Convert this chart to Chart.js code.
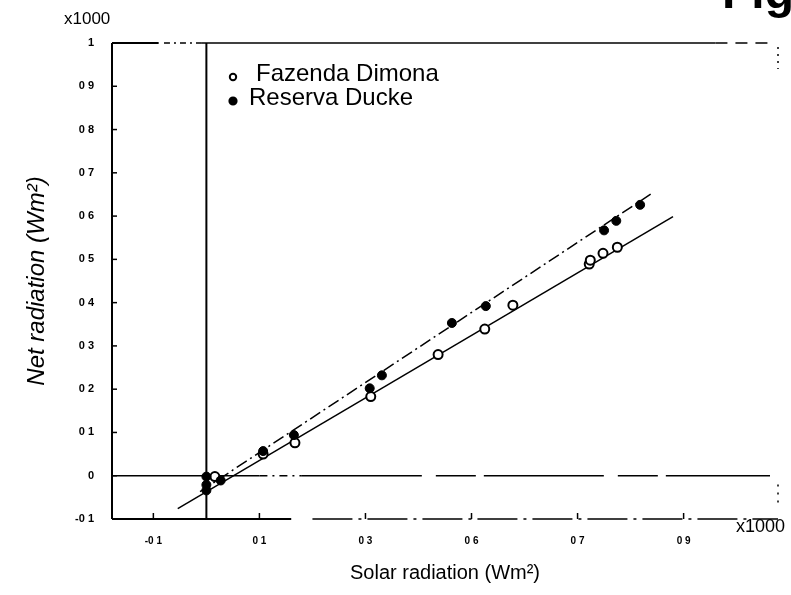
<!DOCTYPE html>
<html>
<head>
<meta charset="utf-8">
<script src="https://cdn.jsdelivr.net/npm/chart.js@4.4.1/dist/chart.umd.min.js"></script>
<style>
  html, body { margin: 0; padding: 0; background: #fff; }
</style>
</head>
<body>
<canvas id="radChart" width="791" height="595"></canvas>
<script>
// series (x1000 Wm-2)
const seriesNames = ['Fazenda Dimona', 'Reserva Ducke'];

const dimonaSolar = [0.016, 0.107, 0.167, 0.310, 0.437, 0.525, 0.578, 0.722, 0.724, 0.748, 0.775];
const dimonaNet   = [-0.002, 0.050, 0.076, 0.183, 0.280, 0.339, 0.394, 0.489, 0.498, 0.514, 0.528];

const duckeSolar = [0.0, 0.0, 0.0, 0.027, 0.107, 0.165, 0.308, 0.331, 0.463, 0.527, 0.750, 0.773, 0.818];
const duckeNet   = [-0.002, -0.021, -0.034, -0.011, 0.057, 0.094, 0.202, 0.232, 0.353, 0.392, 0.567, 0.589, 0.626];

// fitted lines, end points
const dimonaFitX = [-0.054, 0.880];
const dimonaFitY = [-0.076, 0.599];
const duckeFitX  = [-0.012, 0.842];
const duckeFitY  = [-0.037, 0.654];

// axes
const xTickValues = [-0.1, 0.1, 0.3, 0.5, 0.7, 0.9];
const xTickLabels = ['-0 1', '0 1', '0 3', '0 6', '0 7', '0 9'];
const yTickValues = [-0.1, 0, 0.1, 0.2, 0.3, 0.4, 0.5, 0.6, 0.7, 0.8, 0.9, 1];
const yTickLabels = ['-0 1', '0', '0 1', '0 2', '0 3', '0 4', '0 5', '0 6', '0 7', '0 8', '0 9', '1'];

const toPoints = (xs, ys) => xs.map((v, i) => ({x: v, y: ys[i]}));

function seg(ctx, x1, y1, x2, y2, w, dash) {
    ctx.beginPath();
    ctx.lineWidth = w;
    ctx.setLineDash(dash || []);
    ctx.moveTo(x1, y1);
    ctx.lineTo(x2, y2);
    ctx.stroke();
}

// scanned-style frame, zero lines and inward ticks
const framePlugin = {
    id: 'frame',
    beforeDatasetsDraw(chart) {
        const {ctx, chartArea: a, scales: {x, y}} = chart;
        ctx.save();
        ctx.strokeStyle = '#000';
        const x0 = x.getPixelForValue(0);
        const y0 = y.getPixelForValue(0);

        // left + bottom
        seg(ctx, a.left, a.top, a.left, a.bottom, 2);
        seg(ctx, a.left, a.bottom, x.getPixelForValue(0.16), a.bottom, 2);
        seg(ctx, x.getPixelForValue(0.2), a.bottom, a.right, a.bottom, 1.5, [40, 6, 3, 6]);
        // top
        seg(ctx, a.left, a.top, x.getPixelForValue(-0.09), a.top, 2);
        seg(ctx, x.getPixelForValue(-0.08), a.top, x.getPixelForValue(-0.01), a.top, 1.5, [6, 4, 2, 4]);
        seg(ctx, x.getPixelForValue(-0.01), a.top, x.getPixelForValue(0.96), a.top, 1.5);
        seg(ctx, x.getPixelForValue(0.96), a.top, a.right - 4, a.top, 1.5, [12, 8]);
        // right, mostly lost in the scan
        seg(ctx, a.right, a.top + 4, a.right, a.top + 26, 1.5, [2, 5]);
        seg(ctx, a.right, y.getPixelForValue(-0.02), a.right, y.getPixelForValue(-0.075), 1.5, [2, 6]);

        // zero lines
        seg(ctx, a.left, y0, x.getPixelForValue(0.1), y0, 1.6);
        seg(ctx, x.getPixelForValue(0.1), y0, x.getPixelForValue(0.18), y0, 1.6, [8, 5, 2, 5]);
        seg(ctx, x.getPixelForValue(0.18), y0, a.right - 8, y0, 1.6, [120, 14, 40, 8]);
        seg(ctx, x0, a.top, x0, a.bottom, 2);

        yTickValues.forEach(v => {
            const py = y.getPixelForValue(v);
            seg(ctx, a.left, py, a.left + 5, py, 1.5);
        });
        xTickValues.forEach(v => {
            const px = x.getPixelForValue(v);
            seg(ctx, px, a.bottom, px, a.bottom - 6, 1.5);
        });
        ctx.restore();
    },
    afterDraw(chart) {
        const {ctx, chartArea: a} = chart;
        ctx.save();
        ctx.fillStyle = '#000';
        ctx.textBaseline = 'middle';
        ctx.textAlign = 'left';
        ctx.font = '17px "Liberation Sans", Arial, sans-serif';
        ctx.fillText('x1000', 64, 19);
        ctx.font = '18px "Liberation Sans", Arial, sans-serif';
        ctx.fillText('x1000', a.right - 42, a.bottom + 8);

        // legend
        ctx.font = '24px "Liberation Sans", Arial, sans-serif';
        const ds = chart.data.datasets;
        [0, 1].forEach(i => {
            const cy = 77 + i * 24;
            ctx.beginPath();
            ctx.setLineDash([]);
            ctx.arc(233, cy, i === 0 ? 3.2 : 3.6, 0, Math.PI * 2);
            ctx.lineWidth = 2;
            ctx.strokeStyle = '#000';
            ctx.fillStyle = ds[i].backgroundColor;
            ctx.fill();
            ctx.stroke();
            ctx.fillStyle = '#000';
            ctx.fillText(ds[i].label, i === 0 ? 256 : 249, cy - 3);
        });

        // cut-off figure caption at the top edge
        ctx.font = 'bold 48px "Liberation Sans", Arial, sans-serif';
        ctx.textAlign = 'right';
        ctx.textBaseline = 'alphabetic';
        ctx.fillText('Fig', 794, 8);
        ctx.restore();
    }
};

const ctx = document.getElementById('radChart').getContext('2d');
const chart = new Chart(ctx, {
    type: 'scatter',
    data: {
        datasets: [
            {
                label: seriesNames[0],
                data: toPoints(dimonaSolar, dimonaNet),
                pointStyle: 'circle',
                pointRadius: 4.5,
                backgroundColor: '#ffffff',
                borderColor: '#000000',
                borderWidth: 2,
                order: 1
            },
            {
                label: seriesNames[1],
                data: toPoints(duckeSolar, duckeNet),
                pointStyle: 'circle',
                pointRadius: 4.5,
                backgroundColor: '#000000',
                borderColor: '#000000',
                borderWidth: 1,
                order: 0
            },
            {
                label: 'fit Dimona',
                data: toPoints(dimonaFitX, dimonaFitY),
                showLine: true,
                pointRadius: 0,
                borderColor: '#000000',
                borderWidth: 1.5,
                order: 2
            },
            {
                label: 'fit Ducke',
                data: toPoints(duckeFitX, duckeFitY),
                showLine: true,
                pointRadius: 0,
                borderColor: '#000000',
                borderWidth: 1.5,
                borderDash: [12, 4, 2, 4],
                order: 3
            }
        ]
    },
    options: {
        responsive: false,
        animation: false,
        layout: {
            padding: {top: 43, right: 13, left: 0, bottom: 0}
        },
        plugins: {
            legend: {display: false},
            tooltip: {enabled: false}
        },
        scales: {
            x: {
                type: 'linear',
                min: -0.178,
                max: 1.078,
                afterFit: (s) => { s.height = 76; },
                afterBuildTicks: (s) => { s.ticks = xTickValues.map(v => ({value: v})); },
                grid: {display: false},
                border: {display: false},
                ticks: {
                    autoSkip: false,
                    maxRotation: 0,
                    padding: 8,
                    color: '#000',
                    font: {family: '"Liberation Sans", Arial', size: 10, weight: 'bold'},
                    callback: (v, i) => xTickLabels[i]
                },
                title: {
                    display: true,
                    text: 'Solar radiation (Wm²)',
                    color: '#000',
                    padding: {bottom: 10},
                    font: {family: '"Liberation Sans", Arial', size: 20}
                }
            },
            y: {
                type: 'linear',
                min: -0.1,
                max: 1,
                afterFit: (s) => { s.width = 112; },
                afterBuildTicks: (s) => { s.ticks = yTickValues.map(v => ({value: v})); },
                grid: {display: false},
                border: {display: false},
                ticks: {
                    autoSkip: false,
                    padding: 10,
                    color: '#000',
                    font: {family: '"Liberation Sans", Arial', size: 11, weight: 'bold'},
                    callback: (v, i) => yTickLabels[i]
                },
                title: {
                    display: true,
                    text: 'Net radiation (Wm²)',
                    color: '#000',
                    padding: {top: 23},
                    font: {family: '"Liberation Sans", Arial', size: 24, style: 'italic'}
                }
            }
        }
    },
    plugins: [framePlugin]
});
</script>
</body>
</html>
